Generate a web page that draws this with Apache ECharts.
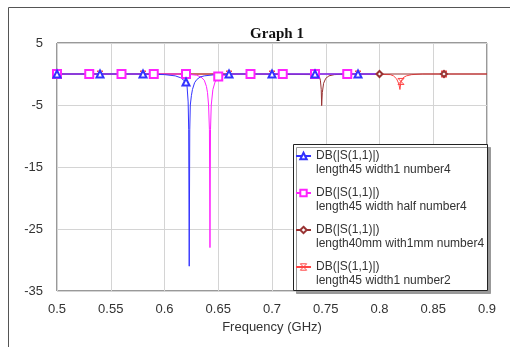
<!DOCTYPE html>
<html lang="en">
<head>
    <meta charset="UTF-8">
    <title>Graph 1</title>
    <style>
        html, body { margin: 0; padding: 0; background: #fff; }
        #chart { width: 510px; height: 347px; }
    </style>
</head>
<body>
<div id="chart"></div>
<script src="https://cdn.jsdelivr.net/npm/echarts@6/dist/echarts.min.js"></script>
<script>
    // frequency (GHz) / DB(|S(1,1)|)
    const blueFreq = [0.5, 0.54, 0.58, 0.6, 0.61, 0.615, 0.62, 0.621, 0.622, 0.6225, 0.623, 0.6235, 0.624, 0.625, 0.626, 0.628, 0.63, 0.633, 0.637, 0.645, 0.66, 0.7, 0.74, 0.78, 0.8];
    const blueDb = [0, 0, 0, -0.1, -0.3, -0.6, -1.3, -2.0, -4.5, -9, -31, -9, -5, -3.5, -2.5, -1.4, -0.9, -0.5, -0.3, -0.15, 0, 0, 0, 0, 0];
    const blueMarks = [0.5, 0.54, 0.58, 0.62, 0.66, 0.7, 0.74, 0.78];

    const magFreq = [0.5, 0.53, 0.56, 0.59, 0.62, 0.63, 0.634, 0.637, 0.639, 0.64, 0.641, 0.6418, 0.6423, 0.6428, 0.6435, 0.645, 0.647, 0.65, 0.655, 0.665, 0.68, 0.71, 0.74, 0.77, 0.8];
    const magDb = [0, 0, 0, 0, 0, -0.2, -0.5, -1, -2, -3, -5, -9, -28, -9, -5, -2.5, -1.3, -0.4, -0.25, 0, 0, 0, 0, 0, 0];
    const magMarks = [0.5, 0.53, 0.56, 0.59, 0.62, 0.65, 0.68, 0.71, 0.74, 0.77];

    const brownFreq = [0.5, 0.56, 0.62, 0.68, 0.74, 0.744, 0.745, 0.7458, 0.7462, 0.7468, 0.748, 0.75, 0.753, 0.758, 0.77, 0.8, 0.86, 0.9];
    const brownDb = [0, 0, 0, 0, -0.1, -0.4, -1, -2.5, -5.1, -3, -1.5, -0.7, -0.3, -0.1, 0, 0, 0, 0];
    const brownMarks = [0.5, 0.56, 0.62, 0.68, 0.74, 0.8, 0.86];

    const redFreq = [0.5, 0.54, 0.58, 0.62, 0.66, 0.7, 0.74, 0.78, 0.81, 0.813, 0.816, 0.818, 0.819, 0.82, 0.822, 0.825, 0.83, 0.84, 0.86, 0.9];
    const redDb = [0, 0, 0, 0, 0, 0, 0, 0, -0.1, -0.3, -0.8, -1.6, -2.5, -1.2, -0.6, -0.3, -0.1, 0, 0, 0];
    const redMarks = [0.5, 0.54, 0.58, 0.62, 0.66, 0.7, 0.74, 0.78, 0.82, 0.86];

    const yTicks = [-35, -25, -15, -5, 5];

    const names = [
        'DB(|S(1,1)|)\nlength45 width1 number4',
        'DB(|S(1,1)|)\nlength45 width half number4',
        'DB(|S(1,1)|)\nlength40mm with1mm number4',
        'DB(|S(1,1)|)\nlength45 width1 number2'
    ];

    const font = '"Liberation Sans", Arial, sans-serif';
    const hourglass = 'path://M0,0L10,0L0,10L10,10Z';
    const clear = 'rgba(255,255,255,0)';

    let makeData = (freq, db, marks) => freq.map((f, i) => {
        let item = { value: [f, db[i]] };
        if (marks.indexOf(f) < 0) item.symbol = 'none';
        return item;
    });

    let lineSeries = (name, color, symbol, size, freq, db, marks, fill) => ({
        type: 'line',
        name: name,
        data: makeData(freq, db, marks),
        symbol: symbol,
        symbolSize: size,
        showAllSymbol: true,
        animation: false,
        lineStyle: { color: color, width: 1 },
        itemStyle: { color: fill || color, borderColor: color, borderWidth: 1 },
        emphasis: { disabled: true }
    });

    var myChart = echarts.init(document.getElementById('chart'));

    myChart.setOption({
        animation: false,
        title: {
            text: 'Graph 1',
            left: 272,
            textAlign: 'center',
            top: 22,
            textStyle: { fontFamily: '"Liberation Serif", "Times New Roman", serif', fontSize: 15, fontWeight: 'bold', color: '#111' }
        },
        grid: {
            left: 57, right: 23, top: 43, bottom: 56,
            show: true, borderColor: '#333', borderWidth: 1, backgroundColor: '#fff'
        },
        xAxis: {
            type: 'value',
            min: 0.5, max: 0.9, interval: 0.05,
            name: 'Frequency (GHz)',
            nameLocation: 'middle',
            nameGap: 29,
            nameTextStyle: { fontFamily: font, fontSize: 13, color: '#333' },
            axisLine: { show: false },
            axisTick: { show: false },
            axisLabel: { fontFamily: font, fontSize: 13, color: '#333', margin: 12 },
            splitLine: { lineStyle: { color: '#d4d4d4', width: 1 } }
        },
        yAxis: {
            type: 'value',
            min: -35, max: 5,
            axisLine: { show: false },
            axisTick: { show: false, customValues: yTicks },
            axisLabel: { fontFamily: font, fontSize: 13, color: '#333', margin: 14, customValues: yTicks },
            splitLine: { lineStyle: { color: '#d4d4d4', width: 1 } }
        },
        legend: {
            orient: 'vertical',
            left: 295,
            top: 135,
            padding: 0,
            itemGap: -5,
            itemWidth: 15,
            itemHeight: 8,
            data: [
                { name: names[0] },
                { name: names[1] },
                { name: names[2] },
                { name: names[3], itemStyle: { color: clear, borderColor: '#ff4444', borderWidth: 1 } }
            ],
            // blank first line so the icon sits next to the first text line
            formatter: (name) => '\n' + name,
            textStyle: { fontFamily: font, fontSize: 12, lineHeight: 14, color: '#333' }
        },
        graphic: [
            {
                type: 'rect', z: 3,
                shape: { x: 8.5, y: 7.5, width: 700, height: 500 },
                style: { fill: 'none', stroke: '#555', lineWidth: 1 }
            },
            {
                type: 'rect', z: 3,
                shape: { x: 293.5, y: 144.5, width: 194, height: 146 },
                style: { fill: '#fff', stroke: '#222', lineWidth: 1, shadowColor: '#999', shadowOffsetX: 3, shadowOffsetY: 3, shadowBlur: 0 }
            }
        ],
        series: [
            lineSeries(names[3], '#ff4444', hourglass, 6, redFreq, redDb, redMarks, clear),
            lineSeries(names[2], '#993333', 'emptyDiamond', 6, brownFreq, brownDb, brownMarks),
            lineSeries(names[1], '#ff22ff', 'emptyRect', 8, magFreq, magDb, magMarks),
            lineSeries(names[0], '#3333ff', 'emptyTriangle', 7, blueFreq, blueDb, blueMarks)
        ]
    });
</script>
</body>
</html>
